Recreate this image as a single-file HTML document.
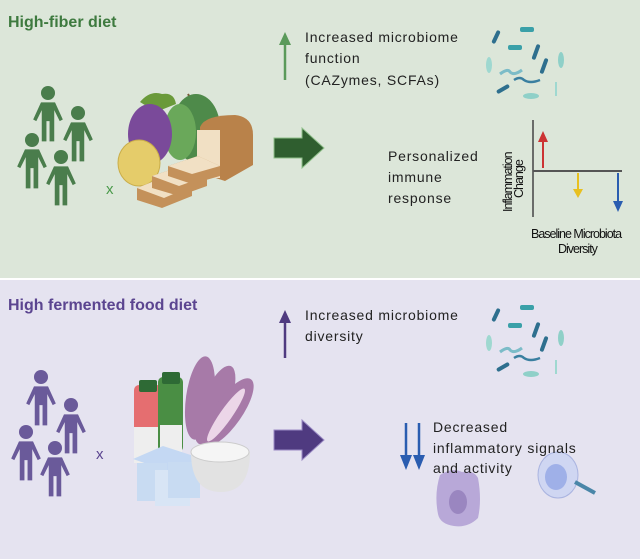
<!DOCTYPE html>
<html><head><style>
body{margin:0;width:640px;height:559px;overflow:hidden;background:#fff;font-family:"Liberation Sans",sans-serif}
svg{display:block}
</style></head><body>
<svg width="640" height="559" viewBox="0 0 640 559" xmlns="http://www.w3.org/2000/svg" font-family="Liberation Sans, sans-serif">
<defs>
<g id="p"><circle cx="0" cy="0" r="9"/><path d="M-9,12 h18 l10,22 -4,2 -7,-14 v40 h-6 v-26 h-4 v26 h-6 v-40 l-7,14 -4,-2z"/></g>
<g id="bact">
<rect x="8" y="10" width="4" height="14" rx="2" fill="#2e6f8e" transform="rotate(25 10 17)"/>
<rect x="34" y="7" width="14" height="5" rx="2" fill="#3aa0a8"/>
<rect x="22" y="25" width="14" height="5" rx="2" fill="#3aa0a8"/>
<rect x="48" y="24" width="4" height="16" rx="2" fill="#2e6f8e" transform="rotate(20 50 32)"/>
<rect x="56" y="38" width="4" height="16" rx="2" fill="#2e6f8e" transform="rotate(20 58 46)"/>
<path d="M14,54 q8,-6 10,-2 q4,4 12,-2" stroke="#7cbcc8" stroke-width="3" fill="none"/>
<path d="M28,60 q6,-4 10,0 q6,4 16,0" stroke="#3a7fa0" stroke-width="2.5" fill="none"/>
<rect x="10" y="67" width="14" height="4" rx="2" fill="#2e6f8e" transform="rotate(-30 17 69)"/>
<ellipse cx="45" cy="76" rx="8" ry="3" fill="#8fd0c8"/>
<ellipse cx="75" cy="40" rx="3" ry="8" fill="#8fd0c8"/>
<ellipse cx="3" cy="45" rx="3" ry="8" fill="#9fd8d0"/>
<line x1="70" y1="62" x2="70" y2="76" stroke="#9fd8d0" stroke-width="2"/>
</g>
</defs>
<rect x="0" y="0" width="640" height="278" fill="#dce6d9"/>
<rect x="0" y="280" width="640" height="279" fill="#e5e3f0"/>
<text x="8" y="27" font-size="16" font-weight="bold" fill="#3e7a3f">High-fiber diet</text>
<text x="8" y="310" font-size="16" font-weight="bold" fill="#5b4590">High fermented food diet</text>
<g fill="#4a7d4c">
<use href="#p" transform="translate(48,93) scale(0.78)"/><use href="#p" transform="translate(78,113) scale(0.78)"/>
<use href="#p" transform="translate(32,140) scale(0.78)"/><use href="#p" transform="translate(61,157) scale(0.78)"/>
</g>
<text x="106" y="194" font-size="15" fill="#4a9a4a">x</text>
<g fill="#6a5a9a">
<use href="#p" transform="translate(41,377) scale(0.78)"/><use href="#p" transform="translate(71,405) scale(0.78)"/>
<use href="#p" transform="translate(26,432) scale(0.78)"/><use href="#p" transform="translate(55,448) scale(0.78)"/>
</g>
<text x="96" y="459" font-size="15" fill="#5b4590">x</text>
<!-- fiber food -->
<path d="M195,107 l-7,-13" stroke="#7a5a3a" stroke-width="2"/>
<ellipse cx="196" cy="128" rx="24" ry="34" fill="#4e8a4a"/>
<ellipse cx="180" cy="132" rx="16" ry="28" fill="#6aa85a"/>
<path d="M140,102 q10,-12 22,-8 q12,-2 14,10 l-20,8z" fill="#6a9a3a"/>
<ellipse cx="150" cy="134" rx="22" ry="30" fill="#7a4a9a"/>
<ellipse cx="139" cy="163" rx="21" ry="23" fill="#e5cc6a" stroke="#c9ad4a"/>
<path d="M200,127 q5,-12 35,-12 q18,2 18,20 v30 l-28,16 -25,-8z" fill="#b9824a"/>
<path d="M197,130 h23 v48 h-23z" fill="#f1e0c4"/>
<path d="M137,188 l30,-12 25,10 v10 l-30,12 -25,-8z" fill="#c4915a"/>
<path d="M137,188 l30,-12 25,10 -28,12z" fill="#f1e0c4"/>
<path d="M152,176 l30,-10 25,10 v10 l-28,10 -27,-8z" fill="#c4915a"/>
<path d="M152,176 l30,-10 25,10 -28,10z" fill="#f1e0c4"/>
<path d="M168,166 l30,-10 22,10 v10 l-28,8 -24,-8z" fill="#c4915a"/>
<path d="M168,166 l30,-10 22,10 -28,8z" fill="#f1e0c4"/>
<!-- fermented food -->
<ellipse cx="200" cy="398" rx="14" ry="42" fill="#a77aa8" transform="rotate(8 200 398)"/>
<ellipse cx="215" cy="405" rx="14" ry="42" fill="#a77aa8" transform="rotate(22 215 405)"/>
<ellipse cx="228" cy="412" rx="14" ry="40" fill="#a77aa8" transform="rotate(35 228 412)"/>
<ellipse cx="226" cy="415" rx="6" ry="32" fill="#ecd6e8" transform="rotate(35 226 415)"/>
<rect x="134" y="385" width="28" height="78" rx="5" fill="#e56e70"/><rect x="139" y="380" width="18" height="12" rx="2" fill="#2e6a35"/>
<rect x="134" y="427" width="28" height="36" fill="#eeeeee"/>
<rect x="158" y="377" width="25" height="75" rx="5" fill="#4a8e44"/><rect x="162" y="372" width="18" height="12" rx="2" fill="#2e6a35"/>
<rect x="160" y="425" width="22" height="27" fill="#eeeeee"/>
<path d="M133,459 l30,-13 37,12 -30,14z" fill="#c4d8f3"/>
<rect x="137" y="463" width="30" height="38" fill="#c8dbf2"/>
<rect x="155" y="470" width="35" height="36" fill="#d8e5f5"/>
<rect x="168" y="462" width="32" height="36" fill="#c8dbf2"/>
<path d="M191,452 q0,40 30,40 q29,0 29,-40z" fill="#e2e2e2"/>
<ellipse cx="220" cy="452" rx="29" ry="10" fill="#f5f5f5" stroke="#ccc"/>
<!-- arrows -->
<path d="M274,138 h28 v-10 l22,20 -22,20 v-10 h-28z" fill="#2f5e2f" stroke="#8fc08a" stroke-width="1"/>
<path d="M274,430 h28 v-10 l22,20 -22,20 v-10 h-28z" fill="#4f3a80" stroke="#9a8ac4" stroke-width="1"/>
<line x1="285" y1="80" x2="285" y2="44" stroke="#5a9a5a" stroke-width="2.5"/><path d="M279,45 l6,-13 6,13z" fill="#5a9a5a"/>
<line x1="285" y1="358" x2="285" y2="322" stroke="#4f3a80" stroke-width="2.5"/><path d="M279,323 l6,-13 6,13z" fill="#4f3a80"/>
<g font-size="14" fill="#222" letter-spacing="0.8">
<text x="305" y="42">Increased microbiome</text><text x="305" y="63">function</text><text x="305" y="85">(CAZymes, SCFAs)</text>
<text x="388" y="161">Personalized</text><text x="388" y="182">immune</text><text x="388" y="203">response</text>
<text x="305" y="320">Increased microbiome</text><text x="305" y="341">diversity</text>
</g>
<!-- chart -->
<line x1="533" y1="120" x2="533" y2="217" stroke="#444" stroke-width="1.5"/>
<line x1="533" y1="171" x2="622" y2="171" stroke="#555" stroke-width="2"/>
<line x1="543" y1="168" x2="543" y2="140" stroke="#c33" stroke-width="2"/><path d="M538,142 l5,-11 5,11z" fill="#c33"/>
<line x1="578" y1="173" x2="578" y2="190" stroke="#e8c020" stroke-width="2"/><path d="M573,189 l5,9 5,-9z" fill="#e8c020"/>
<line x1="618" y1="173" x2="618" y2="202" stroke="#2a5db0" stroke-width="2"/><path d="M613,201 l5,11 5,-11z" fill="#2a5db0"/>
<g font-size="12.5" letter-spacing="-1" fill="#111">
<text transform="translate(512,212) rotate(-90)">Inflammation</text>
<text transform="translate(523,198) rotate(-90)">Change</text>
<text x="531" y="238">Baseline Microbiota</text>
<text x="558" y="253">Diversity</text>
</g>
<!-- double arrows -->
<g stroke="#2a5db0" stroke-width="2.5"><line x1="406" y1="423" x2="406" y2="458"/><line x1="419" y1="423" x2="419" y2="458"/></g>
<path d="M400,455 l6,15 6,-15z M413,455 l6,15 6,-15z" fill="#2a5db0"/>
<!-- cells -->
<path d="M440,475 q12,-8 22,-3 q12,-2 16,6 q4,22 0,40 q-10,10 -24,8 q-14,-2 -16,-12 q-4,-20 2,-39z" fill="#b8a8d8"/>
<ellipse cx="458" cy="502" rx="9" ry="12" fill="#9a86c0"/>
<ellipse cx="558" cy="475" rx="20" ry="23" fill="#cfd6f2" stroke="#aab4e0"/>
<ellipse cx="556" cy="477" rx="11" ry="13" fill="#9fb0e8"/>
<line x1="575" y1="482" x2="595" y2="493" stroke="#4a86a8" stroke-width="4"/>
<g font-size="14" fill="#222" letter-spacing="0.8">
<text x="433" y="432">Decreased</text><text x="433" y="453">inflammatory signals</text><text x="433" y="473">and activity</text>
</g>
<!-- bacteria clusters -->
<use href="#bact" transform="translate(486,20)"/>
<use href="#bact" transform="translate(486,298)"/>
</svg>
</body></html>
